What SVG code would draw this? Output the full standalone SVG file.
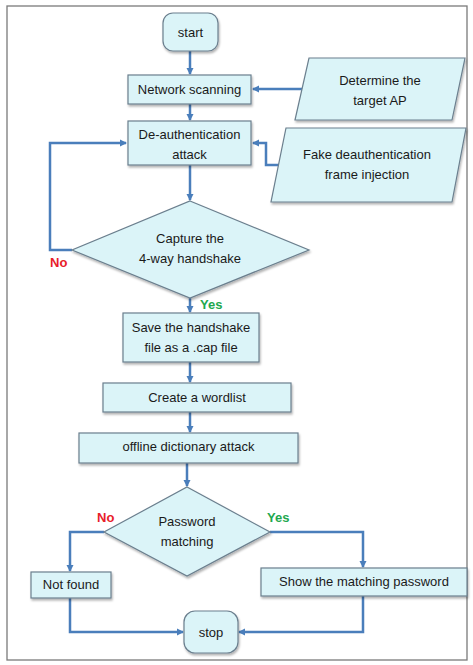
<svg xmlns="http://www.w3.org/2000/svg" width="473" height="665" viewBox="0 0 473 665">
<defs>
<marker id="ah" markerWidth="8" markerHeight="8" refX="6" refY="4" orient="auto" markerUnits="userSpaceOnUse">
<path d="M0,0.5 L7,4 L0,7.5 Z" fill="#4a7ebb"/>
</marker>
<filter id="sh" x="-10%" y="-10%" width="130%" height="140%">
<feDropShadow dx="1" dy="2" stdDeviation="1.2" flood-color="#000" flood-opacity="0.3"/>
</filter>
</defs>
<style>
.n{fill:#dbf4f8;stroke:#6b7f8e;stroke-width:1.2;filter:url(#sh)}
.t{font-family:"Liberation Sans",Arial,sans-serif;font-size:13px;fill:#1a1a1a;text-anchor:middle}
.c{fill:none;stroke:#4a7ebb;stroke-width:2.5;marker-end:url(#ah)}
.no{font-family:"Liberation Sans",Arial,sans-serif;font-size:13px;font-weight:bold;fill:#e8202a}
.yes{font-family:"Liberation Sans",Arial,sans-serif;font-size:13px;font-weight:bold;fill:#1fa84f}
</style>
<rect x="0" y="0" width="473" height="665" fill="#fff"/>
<rect x="7" y="6" width="460" height="654" fill="#fff" stroke="#7a7a7a" stroke-width="1.3"/>

<g id="connectors">
<path class="c" d="M190,51 V74"/>
<path class="c" d="M303,89 H253"/>
<path class="c" d="M190,104 V120"/>
<path class="c" d="M280,165 H266 V143 H253"/>
<path class="c" d="M190,165 V200"/>
<path class="c" d="M72,250 H50 V143 H126"/>
<path class="c" d="M190,298 V312"/>
<path class="c" d="M190,362 V382"/>
<path class="c" d="M190,412 V432"/>
<path class="c" d="M187,463 V486"/>
<path class="c" d="M104,532 H70 V571"/>
<path class="c" d="M270,532 H363 V567"/>
<path class="c" d="M70,598 V632 H183"/>
<path class="c" d="M363,596 V632 H239"/>
</g>

<g id="start">
<rect class="n" x="163" y="13" width="55" height="38" rx="10"/>
<text class="t" x="190.5" y="37">start</text>
</g>
<g id="network-scanning">
<rect class="n" x="128" y="75" width="123" height="29"/>
<text class="t" x="189.5" y="94">Network scanning</text>
</g>
<g id="determine-ap">
<polygon class="n" points="309,58 465,58 452,120 295,120"/>
<text class="t" x="380" y="85">Determine the</text>
<text class="t" x="380" y="105">target AP</text>
</g>
<g id="deauth">
<rect class="n" x="128" y="121" width="123" height="44"/>
<text class="t" x="189.5" y="139">De-authentication</text>
<text class="t" x="189.5" y="159">attack</text>
</g>
<g id="fake-injection">
<polygon class="n" points="286,128 466,128 452,202 271,202"/>
<text class="t" x="367" y="159">Fake deauthentication</text>
<text class="t" x="367" y="179">frame injection</text>
</g>
<g id="capture">
<polygon class="n" points="190,201 309,250 190,298 72,250"/>
<text class="t" x="190" y="243">Capture the</text>
<text class="t" x="190" y="263">4-way handshake</text>
</g>
<text class="no" x="50" y="267">No</text>
<text class="yes" x="200" y="309">Yes</text>
<g id="save">
<rect class="n" x="123" y="313" width="136" height="49"/>
<text class="t" x="191" y="332">Save the handshake</text>
<text class="t" x="191" y="352">file as a .cap file</text>
</g>
<g id="wordlist">
<rect class="n" x="103" y="383" width="188" height="29"/>
<text class="t" x="197" y="402">Create a wordlist</text>
</g>
<g id="offline">
<rect class="n" x="79" y="433" width="219" height="30"/>
<text class="t" x="188.5" y="451">offline dictionary attack</text>
</g>
<g id="password">
<polygon class="n" points="187,487 270,532 187,576 104,532"/>
<text class="t" x="187" y="526">Password</text>
<text class="t" x="187" y="546">matching</text>
</g>
<text class="no" x="97" y="522">No</text>
<text class="yes" x="267" y="522">Yes</text>
<g id="not-found">
<rect class="n" x="31" y="572" width="80" height="26"/>
<text class="t" x="71" y="589">Not found</text>
</g>
<g id="show-password">
<rect class="n" x="261" y="568" width="206" height="28"/>
<text class="t" x="364" y="586">Show the matching password</text>
</g>
<g id="stop">
<rect class="n" x="184" y="611" width="54" height="42" rx="11"/>
<text class="t" x="211" y="637">stop</text>
</g>
</svg>
